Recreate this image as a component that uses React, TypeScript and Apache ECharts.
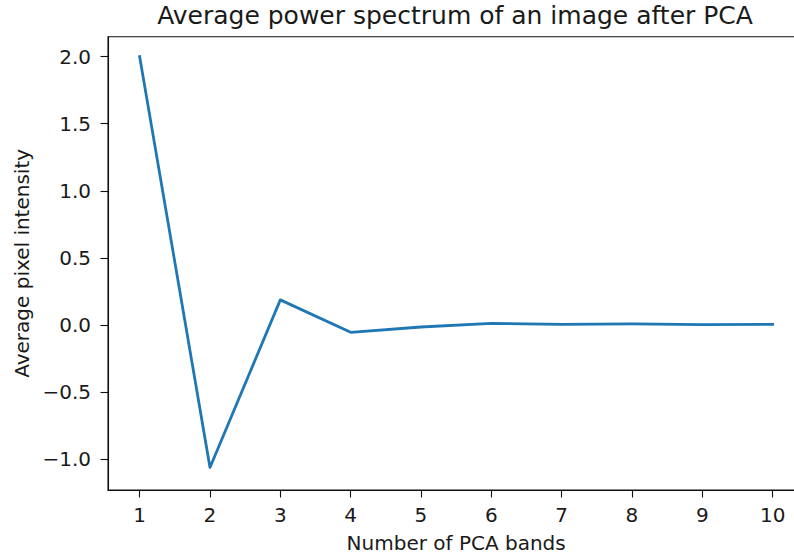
import React, { useEffect, useRef } from "react";
import * as echarts from "echarts";

// PCA band index and average intensity of each band
const bands = [1, 2, 3, 4, 5, 6, 7, 8, 9, 10];
const intensity = [2.0, -1.062, 0.187, -0.055, -0.015, 0.012, 0.004, 0.008, 0.003, 0.005];

const xTicks = [1, 2, 3, 4, 5, 6, 7, 8, 9, 10];
const yTicks = [-1.0, -0.5, 0.0, 0.5, 1.0, 1.5, 2.0];

const FONT = "DejaVu Sans";
const TEXT = "#1a1a1a";
const SPINE = "#111111";

const fmt = (v: number) => {
  const s = Math.abs(v).toFixed(1);
  return v < -1e-9 ? "\u2212" + s : s;
};

export default function App() {
  const ref = useRef<HTMLDivElement>(null);

  useEffect(() => {
    document.body.style.margin = "0";
    const chart = echarts.init(ref.current!, undefined, { renderer: "svg" });
    chart.setOption({
      animation: false,
      backgroundColor: "#ffffff",
      title: {
        text: "Average power spectrum of an image after PCA",
        left: 455,
        textAlign: "center",
        top: 3,
        padding: 0,
        textStyle: { fontFamily: FONT, fontSize: 25, fontWeight: "normal", color: TEXT },
      },
      grid: {
        left: 108,
        top: 36.7,
        bottom: 66.3,
        right: 1.7,
        show: true,
        borderColor: SPINE,
        borderWidth: 1.1,
        backgroundColor: "transparent",
      },
      xAxis: {
        type: "value",
        min: 0.55,
        max: 10.45,
        name: "Number of PCA bands",
        nameLocation: "middle",
        nameGap: 43,
        nameTextStyle: { fontFamily: FONT, fontSize: 20, color: TEXT },
        axisLine: { show: true, onZero: false, lineStyle: { color: SPINE, width: 1.1 } },
        axisTick: { show: true, length: 7.5, customValues: xTicks, lineStyle: { color: SPINE, width: 1.1 } },
        axisLabel: {
          customValues: xTicks,
          margin: 15,
          fontFamily: FONT,
          fontSize: 20,
          color: TEXT,
          formatter: (v: number) => String(v),
        },
        splitLine: { show: false },
      },
      yAxis: {
        type: "value",
        min: -1.23,
        max: 2.1485,
        name: "Average pixel intensity",
        nameLocation: "middle",
        nameGap: 76,
        nameTextStyle: { fontFamily: FONT, fontSize: 20, color: TEXT },
        axisLine: { show: true, onZero: false, lineStyle: { color: SPINE, width: 1.1 } },
        axisTick: { show: true, length: 7.5, customValues: yTicks, lineStyle: { color: SPINE, width: 1.1 } },
        axisLabel: {
          customValues: yTicks,
          margin: 17,
          fontFamily: FONT,
          fontSize: 20,
          color: TEXT,
          formatter: fmt,
        },
        splitLine: { show: false },
      },
      series: [
        {
          type: "line",
          data: bands.map((b, i) => [b, intensity[i]]),
          showSymbol: false,
          lineStyle: { color: "#1f77b4", width: 2.8, join: "round", cap: "square" },
          itemStyle: { color: "#1f77b4" },
        },
      ],
    });
    return () => chart.dispose();
  }, []);

  return (
    <div style={{ width: 794, height: 558, overflow: "hidden", position: "relative" }}>
      <div ref={ref} style={{ width: 806, height: 558 }} />
    </div>
  );
}
